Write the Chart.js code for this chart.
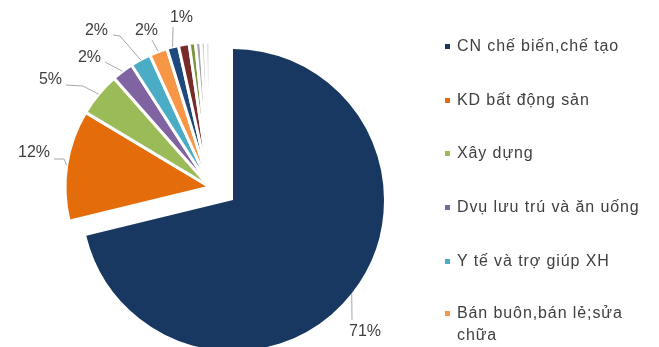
<!DOCTYPE html>
<html>
<head>
<meta charset="utf-8">
<script src="https://cdn.jsdelivr.net/npm/chart.js@4.4.1/dist/chart.umd.min.js"></script>
<style>
  html, body { margin: 0; padding: 0; background: #fff; width: 659px; height: 347px; overflow: hidden;
    font-family: "Liberation Sans", Arial, sans-serif; }
  #wrap { position: relative; width: 659px; height: 347px; overflow: hidden; }
  .pie { position: absolute; left: 0; top: 0; }
  #legend { position: absolute; left: 445px; top: 0; }
  .item { position: absolute; left: 0; width: 200px; font-size: 16px; line-height: 22px; letter-spacing: 0.9px;
    color: #404040; padding-left: 12px; }
  .key { position: absolute; left: 0; top: 9px; width: 5px; height: 5px; }
</style>
</head>
<body>
<div id="wrap">
  <div class="pie" style="width:466px;height:400px"><canvas id="mainSlice"></canvas></div>
  <div class="pie" style="width:420px;height:374px"><canvas id="restSlices"></canvas></div>
  <div id="legend"></div>
</div>
<script>
// sectors (only the first six are named in the legend)
const categories = ['CN chế biến,chế tạo', 'KD bất động sản', 'Xây dựng', 'Dvụ lưu trú và ăn uống', 'Y tế và trợ giúp XH', 'Bán buôn,bán lẻ;sửa chữa'];
const shares = [71.2, 12.4, 4.9, 2.4, 2.3, 2.0, 1.3, 1.2, 0.7, 0.6, 0.5, 0.5];
const colors = ['#193861', '#e46c0a', '#9bbb59', '#8064a2', '#4bacc6', '#f79646', '#1f497d', '#772c2a', '#77933c', '#a6a6a6', '#d0d0d0', '#e0e0e0'];

// where each percentage label sits, plus its leader line
const labelSpots = {
  0: { x: 349, y: 332, align: 'left', path: [[352, 320]] },
  1: { x: 50, y: 153, align: 'right', path: [[64, 159], [54, 159]] },
  2: { x: 62, y: 80, align: 'right', path: [[83, 86], [66, 85]] },
  3: { x: 101, y: 58, align: 'right', path: [[105, 62]] },
  4: { x: 108, y: 31, align: 'right', path: [[120, 36], [113, 35]] },
  5: { x: 158, y: 31, align: 'right', path: [[152, 40]] },
  6: { x: 193, y: 18, align: 'right', path: [[173, 27]] }
};
const legendRows = [46, 100, 153, 207, 261, 313];

const pctLabels = {
  id: 'pctLabels',
  afterDatasetsDraw(chart, args, opts) {
    const ctx = chart.ctx;
    const arcs = chart.getDatasetMeta(0).data;
    ctx.save();
    ctx.font = '16px "Liberation Sans", Arial, sans-serif';
    ctx.fillStyle = '#404040';
    ctx.strokeStyle = '#a6a6a6';
    ctx.lineWidth = 1;
    ctx.textBaseline = 'middle';
    opts.slices.forEach(i => {
      const p = arcs[i].getProps(['x', 'y', 'startAngle', 'endAngle', 'outerRadius']);
      const mid = (p.startAngle + p.endAngle) / 2;
      const spot = labelSpots[i];
      ctx.beginPath();
      ctx.moveTo(p.x + Math.cos(mid) * p.outerRadius, p.y + Math.sin(mid) * p.outerRadius);
      spot.path.forEach(pt => ctx.lineTo(pt[0], pt[1]));
      ctx.stroke();
      ctx.textAlign = spot.align;
      ctx.fillText(Math.round(shares[i]) + '%', spot.x, spot.y);
    });
    ctx.restore();
  }
};

function pieChart(id, show, radius, border, slices) {
  return new Chart(document.getElementById(id), {
    type: 'pie',
    data: {
      labels: shares.map((v, i) => categories[i] || ''),
      datasets: [{
        data: shares,
        backgroundColor: shares.map((v, i) => show(i) ? colors[i] : 'rgba(0,0,0,0)'),
        borderColor: '#ffffff',
        borderWidth: shares.map((v, i) => show(i) ? border : 0),
        radius: radius
      }]
    },
    options: {
      responsive: true,
      maintainAspectRatio: false,
      animation: false,
      events: [],
      layout: { padding: 0 },
      plugins: {
        legend: { display: false },
        tooltip: { enabled: false },
        pctLabels: { slices: slices }
      }
    },
    plugins: [pctLabels]
  });
}

// the big sector is pulled out from the rest
pieChart('mainSlice', i => i === 0, 151, 0, [0]);
pieChart('restSlices', i => i > 0, 145, 3, [1, 2, 3, 4, 5, 6]);

const legend = document.getElementById('legend');
categories.forEach((name, i) => {
  const row = document.createElement('div');
  row.className = 'item';
  row.style.top = (legendRows[i] - 11) + 'px';
  const key = document.createElement('span');
  key.className = 'key';
  key.style.background = colors[i];
  row.appendChild(key);
  row.appendChild(document.createTextNode(name));
  legend.appendChild(row);
});
</script>
</body>
</html>
